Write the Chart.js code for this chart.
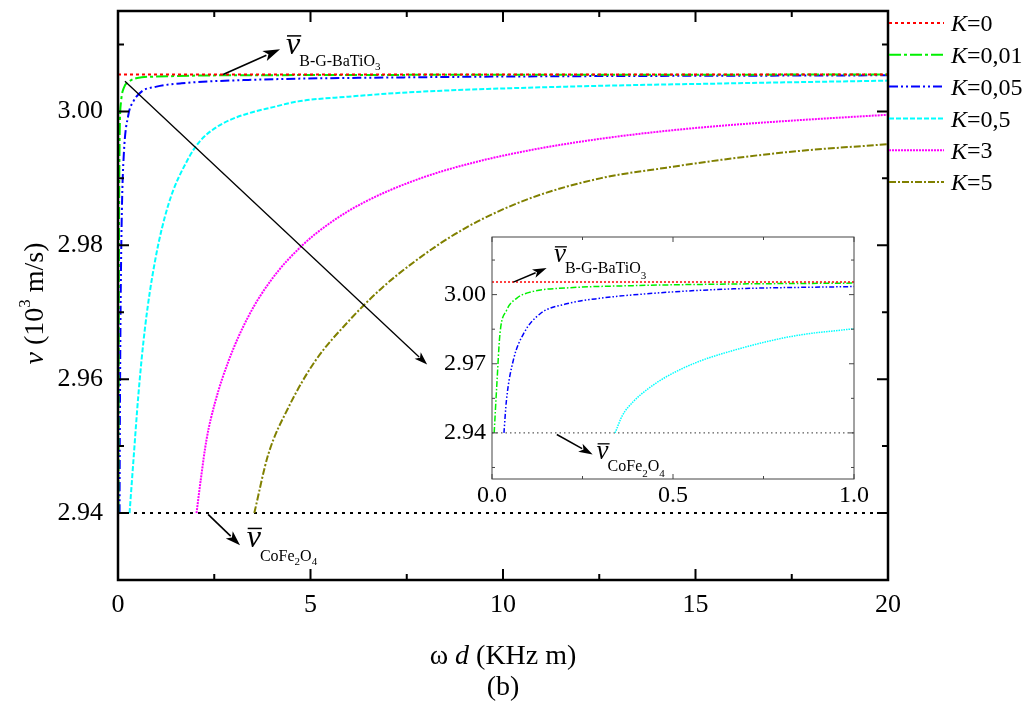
<!DOCTYPE html>
<html>
<head>
<meta charset="utf-8">
<script src="https://cdn.jsdelivr.net/npm/chart.js@4.4.1/dist/chart.umd.min.js"></script>
<style>
  html, body { margin: 0; padding: 0; background: #fff; }
  #wrap { position: relative; width: 1032px; height: 704px; }
  #mainChart { position: absolute; left: 0; top: 0; }
  #insetChart { position: absolute; left: 400px; top: 200px; }
</style>
</head>
<body>
<div id="wrap">
  <canvas id="mainChart" width="1032" height="704"></canvas>
  <canvas id="insetChart" width="480" height="320"></canvas>
</div>
<script>
// ---- data ----
const kLabels = ['0', '0,01', '0,05', '0,5', '3', '5'];

const vBaTiO3 = 3.0055;
const vCoFe2O4 = 2.94;

// main plot, x = omega d, v in 10^3 m/s
const k0X = [0, 20];
const k0V = [vBaTiO3, vBaTiO3];
const k001X = [0.01, 0.02, 0.04, 0.08, 0.15, 0.3, 0.5, 1, 3, 20];
const k001V = [2.94, 2.97, 2.995, 3.0015, 3.0035, 3.0045, 3.005, 3.0052, 3.0054, 3.0055];
const k005X = [0.04, 0.05, 0.07, 0.1, 0.15, 0.27, 0.4, 0.62, 1.0, 1.65, 3.38, 7.7, 20];
const k005V = [2.94, 2.955, 2.972, 2.985, 2.9935, 2.9995, 3.0015, 3.003, 3.0037, 3.0042, 3.0047, 3.0051, 3.0054];
const k05X = [0.30, 0.40, 0.53, 0.70, 0.96, 1.31, 1.83, 2.15, 2.52, 2.9, 3.38, 4.0, 4.68, 5.98, 7.71, 11.65, 15.98, 20];
const k05V = [2.94, 2.9478, 2.9577, 2.9676, 2.9776, 2.9861, 2.993, 2.9957, 2.9975, 2.9987, 2.9997, 3.0006, 3.0015, 3.0022, 3.0029, 3.0037, 3.0042, 3.0046];
const k3X = [2.04, 2.15, 2.30, 2.52, 2.87, 3.38, 3.99, 4.77, 5.55, 6.42, 7.71, 9.06, 10.79, 12.52, 14.25, 15.98, 17.71, 20];
const k3V = [2.94, 2.945, 2.951, 2.9565, 2.9627, 2.9693, 2.9749, 2.9799, 2.9835, 2.9865, 2.9897, 2.9921, 2.9943, 2.9959, 2.9971, 2.998, 2.9987, 2.9995];
const k5X = [3.54, 3.90, 4.42, 5.12, 5.98, 6.85, 7.71, 8.62, 9.49, 10.79, 12.52, 14.25, 15.98, 17.71, 20];
const k5V = [2.94, 2.9487, 2.9557, 2.9627, 2.9686, 2.9736, 2.9776, 2.9812, 2.984, 2.9872, 2.99, 2.9916, 2.993, 2.9941, 2.9951];

// inset, x from 0 to 1
const in0X = [0, 1];
const in0V = [vBaTiO3, vBaTiO3];
const in001X = [0.006, 0.013, 0.022, 0.04, 0.068, 0.114, 0.206, 0.39, 0.667, 1.0];
const in001V = [2.94, 2.96, 2.983, 2.9931, 2.9984, 3.0014, 3.0029, 3.0039, 3.0046, 3.005];
const in005X = [0.033, 0.04, 0.059, 0.087, 0.133, 0.206, 0.298, 0.483, 0.667, 1.0];
const in005V = [2.94, 2.9543, 2.9716, 2.983, 2.9917, 2.996, 2.9984, 3.001, 3.0025, 3.0035];
const in05X = [0.34, 0.36, 0.39, 0.43, 0.483, 0.575, 0.667, 0.759, 0.851, 1.0];
const in05V = [2.94, 2.9475, 2.9535, 2.959, 2.9645, 2.9712, 2.9758, 2.9796, 2.9825, 2.9852];

const mainXTicks = [0, 5, 10, 15, 20];
const mainXMinor = [2.5, 7.5, 12.5, 17.5];
const mainYTicks = [2.94, 2.96, 2.98, 3.00];
const mainYMinor = [2.95, 2.97, 2.99, 3.01];
const insetXTicks = [0, 0.5, 1];
const insetXMinor = [0.25, 0.75];
const insetYTicks = [2.94, 2.97, 3.00];
const insetYMinor = [2.925, 2.955, 2.985, 3.015];

// ---- styles ----
const FONT = '"Liberation Serif", "Times New Roman", serif';
const colors = ['#ff0000', '#00f000', '#0000ff', '#00ffff', '#ff00ff', '#808000'];
const mainDash = [[3, 3], [12, 3, 3, 3], [9, 3, 2, 3, 2, 3], [5, 2], [2, 1], [7, 2, 2, 2]];
const insetDash = [[2, 2], [6, 2, 1.5, 2], [5, 2, 1.5, 2, 1.5, 2], [1.5, 1]];

function pts(xs, ys) {
    return xs.map((x, i) => ({ x: x, y: ys[i] }));
}

const mainX = [k0X, k001X, k005X, k05X, k3X, k5X];
const mainV = [k0V, k001V, k005V, k05V, k3V, k5V];
const mainSets = kLabels.map((k, i) => ({
    label: 'K=' + k,
    kText: k,
    data: pts(mainX[i], mainV[i]),
    borderColor: colors[i],
    borderDash: mainDash[i],
    borderWidth: 2
}));
mainSets.push({
    label: 'ref',
    data: pts([0, 20], [vCoFe2O4, vCoFe2O4]),
    borderColor: '#000',
    borderDash: [3, 5],
    borderWidth: 2
});

const insetX = [in0X, in001X, in005X, in05X];
const insetV = [in0V, in001V, in005V, in05V];
const insetSets = insetX.map((xs, i) => ({
    label: 'K=' + kLabels[i],
    data: pts(xs, insetV[i]),
    borderColor: colors[i],
    borderDash: insetDash[i],
    borderWidth: 1.5
}));
insetSets.push({
    label: 'ref',
    data: pts([0, 1], [vCoFe2O4, vCoFe2O4]),
    borderColor: '#333',
    borderDash: [1.5, 3],
    borderWidth: 1
});

// ---- helpers ----
function fixedTicks(values) {
    return function (scale) {
        scale.ticks = values.map(v => ({ value: v }));
    };
}
function fixSize(prop, size) {
    return function (scale) {
        scale[prop] = size;
        scale.paddingTop = 0; scale.paddingBottom = 0;
        scale.paddingLeft = 0; scale.paddingRight = 0;
    };
}

function framePlugin(id, o) {
    return {
        id: id,
        afterDatasetsDraw(chart) {
            const ctx = chart.ctx, a = chart.chartArea;
            const x = chart.scales.x, y = chart.scales.y;
            ctx.save();
            ctx.strokeStyle = o.color;
            ctx.lineWidth = o.tickWidth;
            ctx.setLineDash([]);
            ctx.beginPath();
            const tx = (vals, len) => vals.forEach(v => {
                const p = x.getPixelForValue(v);
                ctx.moveTo(p, a.bottom); ctx.lineTo(p, a.bottom - len);
                ctx.moveTo(p, a.top); ctx.lineTo(p, a.top + len);
            });
            const ty = (vals, len) => vals.forEach(v => {
                const p = y.getPixelForValue(v);
                ctx.moveTo(a.left, p); ctx.lineTo(a.left + len, p);
                ctx.moveTo(a.right, p); ctx.lineTo(a.right - len, p);
            });
            tx(o.xMajor, o.major); tx(o.xMinor, o.minor);
            ty(o.yMajor, o.major); ty(o.yMinor, o.minor);
            ctx.stroke();
            ctx.lineWidth = o.boxWidth;
            ctx.strokeRect(a.left, a.top, a.right - a.left, a.bottom - a.top);
            ctx.restore();
        }
    };
}

function arrow(ctx, x1, y1, x2, y2, len, half) {
    const ang = Math.atan2(y2 - y1, x2 - x1);
    const bx = x2 - len * Math.cos(ang), by = y2 - len * Math.sin(ang);
    ctx.beginPath(); ctx.moveTo(x1, y1); ctx.lineTo(bx + 2 * Math.cos(ang), by + 2 * Math.sin(ang)); ctx.stroke();
    ctx.beginPath();
    ctx.moveTo(x2, y2);
    ctx.lineTo(bx + half * Math.sin(ang), by - half * Math.cos(ang));
    ctx.lineTo(bx + 0.25 * len * Math.cos(ang), by + 0.25 * len * Math.sin(ang));
    ctx.lineTo(bx - half * Math.sin(ang), by + half * Math.cos(ang));
    ctx.closePath(); ctx.fill();
}

function vbar(ctx, x, y, parts, o) {
    ctx.save();
    ctx.fillStyle = '#000'; ctx.strokeStyle = '#000';
    ctx.textAlign = 'left'; ctx.textBaseline = 'alphabetic';
    ctx.font = 'italic ' + o.v + 'px ' + FONT;
    ctx.fillText('v', x, y);
    const w = ctx.measureText('v').width;
    ctx.lineWidth = o.bar;
    ctx.setLineDash([]);
    ctx.beginPath();
    ctx.moveTo(x + 1, y - o.v * 0.58); ctx.lineTo(x + w + 1, y - o.v * 0.58);
    ctx.stroke();
    let cx = x + w - 1;
    parts.forEach(p => {
        ctx.font = (p.sub ? o.s2 : o.s1) + 'px ' + FONT;
        ctx.fillText(p.t, cx, y + (p.sub ? o.d2 : o.d1));
        cx += ctx.measureText(p.t).width;
    });
    ctx.restore();
}

function richText(ctx, parts, cx, cy, size) {
    let total = 0;
    parts.forEach(p => {
        ctx.font = (p.it ? 'italic ' : '') + (p.sup ? size * 0.6 : size) + 'px ' + FONT;
        total += ctx.measureText(p.t).width;
    });
    let x = cx - total / 2;
    parts.forEach(p => {
        ctx.font = (p.it ? 'italic ' : '') + (p.sup ? size * 0.6 : size) + 'px ' + FONT;
        ctx.fillText(p.t, x, cy + (p.sup ? -size * 0.38 : 0));
        x += ctx.measureText(p.t).width;
    });
}

const baTiParts = [{ t: 'B-G-BaTiO' }, { t: '3', sub: true }];
const coFeParts = [{ t: 'CoFe' }, { t: '2', sub: true }, { t: 'O' }, { t: '4', sub: true }];

const mainLegend = {
    id: 'mainLegend',
    afterDraw(chart) {
        const ctx = chart.ctx, a = chart.chartArea;
        ctx.save();
        chart.data.datasets.forEach((ds, i) => {
            if (ds.kText == null) return;
            const y = 23 + i * 31.8;
            ctx.strokeStyle = ds.borderColor;
            ctx.lineWidth = 2;
            ctx.setLineDash(ds.borderDash);
            ctx.beginPath(); ctx.moveTo(a.right + 1, y); ctx.lineTo(a.right + 56, y); ctx.stroke();
            ctx.setLineDash([]);
            ctx.fillStyle = '#000';
            ctx.textBaseline = 'middle'; ctx.textAlign = 'left';
            ctx.font = 'italic 24px ' + FONT;
            ctx.fillText('K', a.right + 63, y + 2);
            const kw = ctx.measureText('K').width;
            ctx.font = '24px ' + FONT;
            ctx.fillText('=' + ds.kText, a.right + 63 + kw, y + 2);
        });
        ctx.restore();
    }
};

const mainNotes = {
    id: 'mainNotes',
    afterDraw(chart) {
        const ctx = chart.ctx, a = chart.chartArea;
        const x = chart.scales.x, y = chart.scales.y;
        const P = (vx, vy) => [x.getPixelForValue(vx), y.getPixelForValue(vy)];
        ctx.save();
        ctx.fillStyle = '#000'; ctx.strokeStyle = '#000'; ctx.lineWidth = 1.6;
        ctx.setLineDash([]);
        let p1 = P(2.73, 3.0055), p2 = P(4.21, 3.0093);
        arrow(ctx, p1[0], p1[1], p2[0], p2[1], 17, 5.5);
        p1 = P(2.34, 2.9398); p2 = P(3.17, 2.9352);
        arrow(ctx, p1[0], p1[1], p2[0], p2[1], 15, 5);
        ctx.lineWidth = 1.3;
        p1 = P(0.18, 3.0045); p2 = P(8.03, 2.9622);
        arrow(ctx, p1[0], p1[1], p2[0], p2[1], 13, 4.5);
        const t = P(4.364, 3.00851);
        vbar(ctx, t[0], t[1], baTiParts, { v: 32, bar: 1.5, s1: 16, s2: 11, d1: 12, d2: 16 });
        const b = P(3.343, 2.93493);
        vbar(ctx, b[0], b[1], coFeParts, { v: 32, bar: 1.5, s1: 16, s2: 11, d1: 14, d2: 18 });

        // axis titles
        ctx.textBaseline = 'middle';
        const cx = (a.left + a.right) / 2;
        richText(ctx, [{ t: 'ω ' }, { t: 'd', it: true }, { t: ' (KHz m)' }], cx, 657, 28);
        richText(ctx, [{ t: '(b)' }], cx, 688, 28);
        ctx.translate(36, (a.top + a.bottom) / 2 + 8);
        ctx.rotate(-Math.PI / 2);
        richText(ctx, [{ t: 'v', it: true }, { t: ' (10' }, { t: '3', sup: true }, { t: ' m/s)' }], 0, 0, 28);
        ctx.restore();
    }
};

const insetNotes = {
    id: 'insetNotes',
    afterDraw(chart) {
        const ctx = chart.ctx;
        const x = chart.scales.x, y = chart.scales.y;
        const P = (vx, vy) => [x.getPixelForValue(vx), y.getPixelForValue(vy)];
        ctx.save();
        ctx.fillStyle = '#000'; ctx.strokeStyle = '#000'; ctx.lineWidth = 1.5;
        let p1 = P(0.059, 3.0054), p2 = P(0.151, 3.0115);
        arrow(ctx, p1[0], p1[1], p2[0], p2[1], 14, 4.5);
        p1 = P(0.179, 2.9393); p2 = P(0.278, 2.9306);
        arrow(ctx, p1[0], p1[1], p2[0], p2[1], 14, 4.5);
        const t = P(0.171, 3.01394);
        vbar(ctx, t[0], t[1], baTiParts, { v: 27, bar: 1.3, s1: 16, s2: 11, d1: 11, d2: 17 });
        const b = P(0.289, 2.92847);
        vbar(ctx, b[0], b[1], coFeParts, { v: 27, bar: 1.3, s1: 16, s2: 11, d1: 12, d2: 18 });
        ctx.restore();
    }
};

function axisCommon(ticksFont, pad, fmt) {
    return {
        type: 'linear',
        grid: { display: false, drawTicks: false },
        border: { display: false },
        ticks: {
            font: { family: FONT, size: ticksFont },
            color: '#000',
            padding: pad,
            autoSkip: false,
            maxRotation: 0,
            callback: fmt
        }
    };
}

// ---- main chart ----
const mainXAxis = axisCommon(26, 10, v => String(v));
Object.assign(mainXAxis, { min: 0, max: 20, afterBuildTicks: fixedTicks(mainXTicks), afterFit: fixSize('height', 124) });
const mainYAxis = axisCommon(26, 15, v => v.toFixed(2));
Object.assign(mainYAxis, { min: 2.93, max: 3.015, afterBuildTicks: fixedTicks(mainYTicks), afterFit: fixSize('width', 118) });

new Chart(document.getElementById('mainChart'), {
    type: 'line',
    data: { datasets: mainSets },
    options: {
        responsive: false,
        animation: false,
        layout: { padding: { left: 0, top: 11, right: 144, bottom: 0 } },
        plugins: { legend: { display: false }, tooltip: { enabled: false } },
        elements: { point: { radius: 0 }, line: { cubicInterpolationMode: 'monotone' } },
        scales: { x: mainXAxis, y: mainYAxis }
    },
    plugins: [
        framePlugin('mainFrame', { color: '#000', tickWidth: 2, boxWidth: 2.5, major: 11, minor: 6,
            xMajor: mainXTicks, xMinor: mainXMinor, yMajor: mainYTicks, yMinor: mainYMinor }),
        mainLegend, mainNotes
    ]
});

// ---- inset chart ----
const insetXAxis = axisCommon(24, 2, v => v.toFixed(1));
Object.assign(insetXAxis, { min: 0, max: 1, afterBuildTicks: fixedTicks(insetXTicks), afterFit: fixSize('height', 41) });
const insetYAxis = axisCommon(24, 6, v => v.toFixed(2));
Object.assign(insetYAxis, { min: 2.92, max: 3.025, afterBuildTicks: fixedTicks(insetYTicks), afterFit: fixSize('width', 92) });

new Chart(document.getElementById('insetChart'), {
    type: 'line',
    data: { datasets: insetSets },
    options: {
        responsive: false,
        animation: false,
        layout: { padding: { left: 0, top: 37, right: 26, bottom: 0 } },
        plugins: { legend: { display: false }, tooltip: { enabled: false } },
        elements: { point: { radius: 0 }, line: { cubicInterpolationMode: 'monotone' } },
        scales: { x: insetXAxis, y: insetYAxis }
    },
    plugins: [
        framePlugin('insetFrame', { color: '#444', tickWidth: 1, boxWidth: 1, major: 5, minor: 3,
            xMajor: insetXTicks, xMinor: insetXMinor, yMajor: insetYTicks, yMinor: insetYMinor }),
        insetNotes
    ]
});
</script>
</body>
</html>
